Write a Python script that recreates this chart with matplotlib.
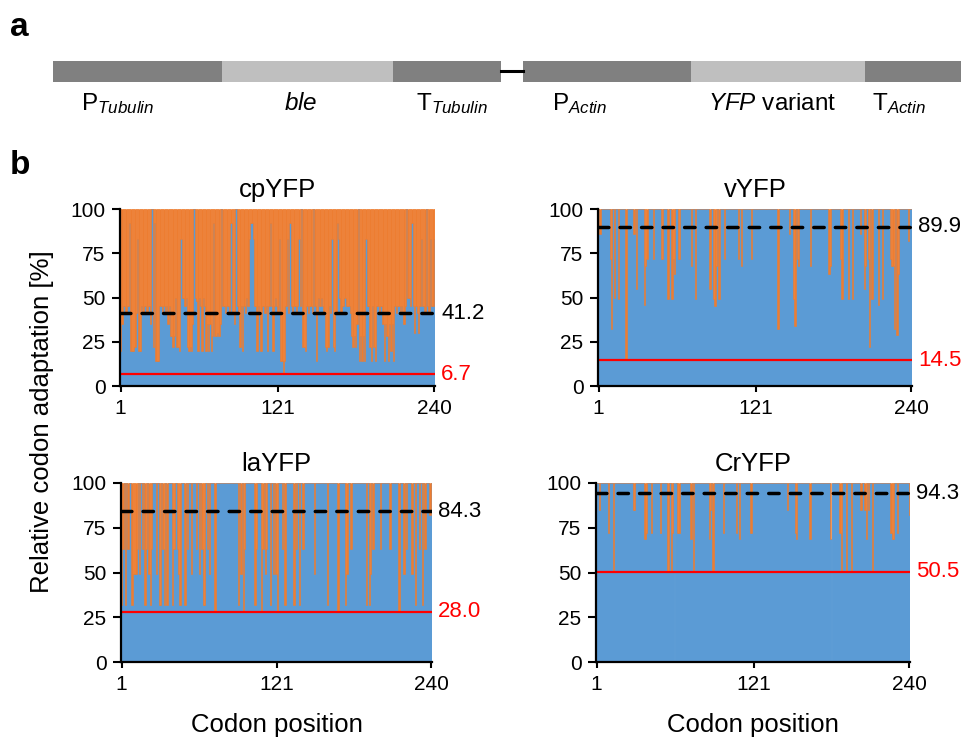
import numpy as np
import matplotlib
matplotlib.use('Agg')
import matplotlib.pyplot as plt

plt.rcParams['font.family'] = ['Liberation Sans', 'DejaVu Sans']
plt.rcParams['mathtext.fontset'] = 'custom'
plt.rcParams['mathtext.rm'] = 'Liberation Sans'
plt.rcParams['mathtext.it'] = 'Liberation Sans:italic'

# ---- panel a: construct parts ----
part_labels = [r'P$_{\mathit{Tubulin}}$', r'$\mathit{ble}$', r'T$_{\mathit{Tubulin}}$',
               r'P$_{\mathit{Actin}}$', r'$\mathit{YFP}$ variant', r'T$_{\mathit{Actin}}$']
part_shades = ['#808080', '#bfbfbf', '#808080', '#808080', '#bfbfbf', '#808080']

# ---- panel b: relative codon adaptation per codon (%) ----
names = ['cpYFP', 'vYFP', 'laYFP', 'CrYFP']
mean_vals = [41.2, 89.9, 84.3, 94.3]
min_vals = [6.7, 14.5, 28.0, 50.5]
codon_ticks = [1, 121, 240]

cpYFP = [20, 35, 45, 45, 41, 45, 45, 92, 20, 20, 20, 22, 41, 83, 20, 20, 45, 41, 45, 45,
         41, 45, 45, 35, 100, 22, 92, 14, 14, 14, 45, 45, 41, 45, 41, 45, 35, 45, 28, 28,
         22, 28, 50, 22, 22, 20, 83, 50, 50, 45, 50, 22, 20, 22, 20, 35, 100, 50, 48, 20,
         50, 45, 20, 50, 45, 20, 35, 20, 35, 20, 28, 92, 28, 28, 30, 28, 35, 100, 45, 45,
         41, 45, 45, 41, 92, 41, 41, 35, 100, 45, 41, 22, 45, 20, 45, 41, 50, 45, 83, 92,
         92, 83, 45, 45, 20, 45, 41, 20, 45, 45, 41, 45, 20, 45, 92, 45, 20, 45, 50, 45,
         41, 83, 14, 14, 6.7, 14, 45, 83, 41, 92, 45, 41, 45, 45, 41, 45, 83, 45, 100, 22,
         22, 20, 45, 41, 45, 45, 41, 100, 45, 14, 41, 50, 45, 50, 45, 41, 22, 20, 22, 45,
         41, 83, 22, 20, 41, 92, 83, 50, 41, 45, 45, 50, 45, 45, 45, 41, 28, 22, 28, 22,
         35, 100, 14, 28, 14, 28, 14, 83, 45, 45, 22, 14, 45, 22, 14, 45, 45, 41, 45, 45,
         35, 14, 35, 28, 14, 35, 20, 35, 14, 45, 41, 45, 45, 41, 45, 41, 35, 45, 100, 50,
         50, 45, 92, 45, 30, 45, 41, 30, 45, 83, 45, 45, 41, 100, 45, 41, 83, 45, 45, 83]

vYFP = [100, 86, 100, 100, 100, 100, 100, 100, 100, 72, 32, 100, 50, 100, 100, 49, 100, 100, 100, 100,
        100, 14.5, 100, 100, 100, 100, 100, 86, 100, 55, 100, 100, 100, 100, 100, 46, 68, 72, 100, 100,
        100, 100, 72, 100, 100, 100, 100, 100, 72, 72, 100, 100, 100, 49, 100, 100, 49, 72, 63, 100,
        100, 72, 72, 100, 100, 100, 100, 100, 100, 100, 100, 68, 100, 100, 49, 100, 100, 100, 100, 100,
        100, 100, 100, 100, 100, 55, 100, 100, 49, 45, 68, 100, 49, 100, 100, 100, 72, 100, 100, 100,
        100, 100, 100, 100, 100, 100, 100, 72, 100, 68, 100, 100, 100, 100, 100, 100, 100, 72, 100, 100,
        100, 100, 100, 100, 100, 100, 100, 100, 100, 100, 100, 100, 100, 100, 100, 100, 100, 32, 100, 100,
        100, 100, 100, 100, 100, 100, 86, 100, 100, 49, 34, 100, 72, 68, 100, 100, 100, 100, 100, 100,
        100, 100, 68, 100, 100, 100, 100, 100, 100, 100, 100, 100, 100, 100, 100, 100, 63, 68, 100, 100,
        100, 100, 100, 100, 100, 72, 49, 100, 100, 100, 100, 49, 100, 100, 49, 100, 100, 100, 100, 100,
        86, 100, 100, 55, 68, 100, 72, 22, 100, 49, 100, 100, 100, 100, 46, 100, 100, 49, 100, 100,
        100, 100, 100, 72, 68, 68, 32, 100, 29, 63, 100, 100, 100, 100, 100, 100, 100, 82, 100, 100]

laYFP = [32, 63, 100, 32, 100, 63, 100, 100, 32, 49, 49, 49, 63, 100, 49, 100, 63, 100, 32, 63,
         100, 49, 32, 63, 100, 100, 100, 49, 100, 32, 32, 100, 63, 32, 100, 32, 100, 100, 100, 32,
         63, 63, 100, 63, 49, 32, 100, 100, 100, 32, 100, 63, 100, 100, 49, 100, 100, 100, 63, 100,
         49, 100, 63, 32, 32, 100, 63, 100, 49, 100, 100, 100, 28, 100, 100, 100, 100, 100, 100, 100,
         100, 100, 100, 100, 100, 100, 100, 100, 100, 100, 32, 100, 49, 100, 28, 63, 100, 100, 100, 100,
         100, 100, 100, 32, 63, 100, 100, 100, 28, 63, 100, 49, 63, 100, 100, 32, 100, 49, 100, 49,
         28, 100, 100, 100, 63, 100, 32, 100, 100, 100, 100, 100, 100, 32, 100, 63, 100, 32, 100, 100,
         63, 100, 100, 100, 100, 100, 100, 100, 100, 49, 100, 100, 100, 100, 100, 100, 100, 100, 100, 32,
         100, 100, 100, 100, 100, 100, 100, 28, 100, 100, 100, 100, 100, 32, 49, 100, 100, 63, 100, 100,
         100, 100, 100, 100, 100, 100, 100, 100, 100, 32, 100, 32, 49, 100, 63, 100, 100, 100, 100, 100,
         63, 100, 100, 100, 100, 100, 100, 63, 100, 100, 100, 100, 100, 100, 28, 100, 100, 100, 49, 100,
         63, 100, 100, 100, 49, 100, 100, 32, 100, 100, 63, 100, 32, 100, 63, 100, 100, 100, 82, 100]

CrYFP = [100, 100, 85, 100, 100, 100, 100, 100, 100, 72, 100, 100, 100, 50.5, 100, 100, 100, 100, 100, 100,
         100, 100, 100, 100, 100, 100, 100, 100, 85, 85, 100, 100, 100, 100, 100, 100, 100, 68.5, 72, 100,
         100, 100, 72, 100, 100, 100, 100, 100, 100, 72, 100, 100, 100, 100, 51, 51, 100, 51, 72, 100,
         100, 100, 72, 72, 100, 100, 100, 100, 100, 100, 100, 100, 68.5, 100, 51, 100, 100, 100, 100, 100,
         100, 100, 100, 100, 100, 100, 68.5, 85, 100, 51, 100, 100, 100, 100, 100, 100, 100, 72, 100, 100,
         100, 100, 100, 100, 100, 100, 100, 72, 100, 68.5, 100, 100, 100, 100, 100, 100, 100, 100, 72, 100,
         100, 100, 100, 100, 100, 100, 100, 100, 100, 100, 100, 100, 100, 100, 100, 100, 100, 100, 100, 100,
         100, 100, 100, 100, 100, 100, 85, 100, 100, 100, 100, 100, 72, 68.5, 100, 100, 100, 100, 100, 100,
         100, 100, 100, 68.5, 100, 100, 100, 100, 100, 100, 100, 100, 100, 100, 100, 100, 100, 100, 100, 68.5,
         100, 100, 100, 100, 100, 100, 72, 51, 100, 100, 100, 51, 100, 100, 100, 51, 100, 100, 100, 100,
         100, 100, 85, 100, 100, 85, 68.5, 100, 85, 100, 100, 51, 100, 100, 100, 100, 100, 100, 100, 100,
         100, 100, 100, 100, 100, 72, 68.5, 68.5, 100, 100, 72, 100, 100, 100, 100, 100, 100, 100, 100, 82]

series = [cpYFP, vYFP, laYFP, CrYFP]

BLUE = '#5B9BD5'
ORANGE = '#ED7D31'

W, H = 962, 739
fig = plt.figure(figsize=(W / 100, H / 100), dpi=100)


def rect(l, r, t, b):
    return [l / W, 1 - b / H, (r - l) / W, (b - t) / H]


# panel a, drawn in pixel space
ax0 = fig.add_axes([0, 0, 1, 1])
ax0.set_xlim(0, W)
ax0.set_ylim(H, 0)
ax0.axis('off')
part_left = np.array([53, 222, 393, 523, 691, 865])
part_right = np.array([222, 393, 501, 691, 865, 962])
ax0.barh(71.5, part_right - part_left, left=part_left, height=21,
         color=part_shades, linewidth=0)
ax0.plot([501, 523], [71, 71], color='black', lw=2.2)
label_x = [118, 301, 452, 580, 772, 899]
for lab, x in zip(part_labels, label_x):
    ax0.text(x, 104, lab, ha='center', va='center', fontsize=17.5)

fig.text(10 / W, 1 - 27 / H, 'a', fontsize=24, fontweight='bold', va='center')
fig.text(10 / W, 1 - 165 / H, 'b', fontsize=24, fontweight='bold', va='center')

rects = [rect(120, 435, 209, 386), rect(598, 912, 209, 386),
         rect(121, 432, 483, 662), rect(596, 910, 483, 662)]

for name, vals, m, mn, rc in zip(names, series, mean_vals, min_vals, rects):
    assert len(vals) == 240, name
    vals = np.array(vals, dtype=float)
    pos = np.arange(1, len(vals) + 1)
    ax = fig.add_axes(rc)
    ax.bar(pos, vals, width=1.0, color=BLUE, edgecolor=BLUE, linewidth=0.7)
    ax.bar(pos, 100 - vals, bottom=vals, width=1.0, color=ORANGE,
           edgecolor=ORANGE, linewidth=0.4)
    ax.plot([0.5, 240.5], [m, m], color='black', lw=2.5,
            linestyle=(0, (3.0, 3.2)), dash_capstyle='round')
    ax.plot([0.5, 240.5], [mn, mn], color='#FF0000', lw=1.6)
    ax.set_xlim(0.5, 240.5)
    ax.set_ylim(0, 100)
    ax.set_yticks([0, 25, 50, 75, 100])
    ax.set_xticks(codon_ticks)
    ax.tick_params(axis='both', labelsize=15, width=1.5, color='black')
    ax.tick_params(axis='y', length=5.5, pad=5)
    ax.tick_params(axis='x', length=4, pad=5)
    for s in ['top', 'right']:
        ax.spines[s].set_visible(False)
    for s in ['left', 'bottom']:
        ax.spines[s].set_linewidth(1.6)
    ax.set_title(name, fontsize=18.5, pad=8.5)
    ax.annotate(f'{m:.1f}', xy=(1, m), xycoords=('axes fraction', 'data'),
                xytext=(4.5, 0), textcoords='offset points', va='center',
                fontsize=16, color='black', annotation_clip=False)
    ax.annotate(f'{mn:.1f}', xy=(1, mn), xycoords=('axes fraction', 'data'),
                xytext=(4.5, 0), textcoords='offset points', va='center',
                fontsize=16, color='#FF0000', annotation_clip=False)

fig.text(42 / W, 1 - 422 / H, 'Relative codon adaptation [%]', rotation=90,
         ha='center', va='center', fontsize=18.5)
fig.text(277 / W, 1 - 725 / H, 'Codon position', ha='center', va='center', fontsize=18.5)
fig.text(753 / W, 1 - 725 / H, 'Codon position', ha='center', va='center', fontsize=18.5)

fig.savefig('out.png', dpi=100)
